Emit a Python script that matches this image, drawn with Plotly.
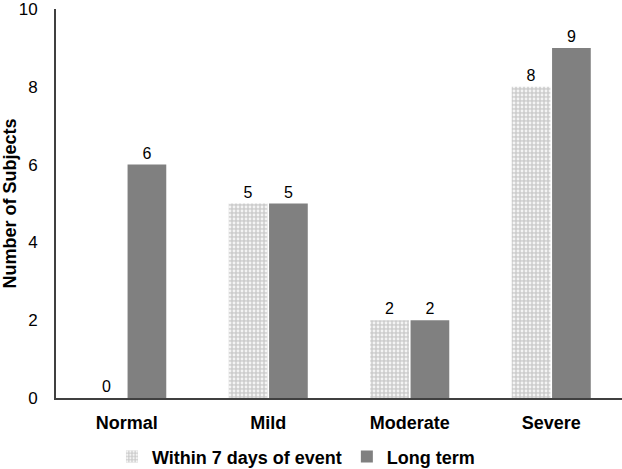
import plotly.graph_objects as go

categories = ["Normal", "Mild", "Moderate", "Severe"]
within_7_days = [0, 5, 2, 8]
long_term = [6, 5, 2, 9]
series_names = ["Within 7 days of event", "Long term"]
y_ticks = [0, 2, 4, 6, 8, 10]

FONT = "Liberation Sans, Arial"

fig = go.Figure()
fig.add_trace(go.Bar(
    x=categories, y=within_7_days, name=series_names[0],
    marker=dict(color="#d4d4d4", line=dict(width=0),
                pattern=dict(shape=".", fgcolor="#f4f4f4", bgcolor="#cdcdcd",
                             size=4, solidity=0.4, fillmode="replace")),
    text=within_7_days, textposition="outside",
    textfont=dict(family=FONT, size=16, color="#000"),
    cliponaxis=False,
))
fig.add_trace(go.Bar(
    x=categories, y=long_term, name=series_names[1],
    marker=dict(color="#808080", line=dict(width=0)),
    text=long_term, textposition="outside",
    textfont=dict(family=FONT, size=16, color="#000"),
    cliponaxis=False,
))

fig.update_layout(
    width=622, height=469,
    margin=dict(l=56, r=0, t=9, b=71),
    paper_bgcolor="white", plot_bgcolor="white",
    barmode="group", bargap=0.43, bargroupgap=0.04,
    font=dict(family=FONT, size=16, color="#000"),
    showlegend=True,
    legend=dict(orientation="h", x=0.424, xanchor="center",
                yref="container", y=0.026, yanchor="middle",
                font=dict(size=18, family=FONT, weight="bold"),
                itemwidth=30, tracegroupgap=0),
    xaxis=dict(showline=True, linecolor="#404040", linewidth=2, ticks="",
               tickfont=dict(size=18, weight="bold"), showgrid=False,
               ticklabelstandoff=7, automargin=False),
    yaxis=dict(range=[0, 10], tickvals=y_ticks, showline=True, linecolor="#404040",
               linewidth=2, ticks="", showgrid=False, zeroline=False,
               tickfont=dict(size=17), ticklabelstandoff=13, automargin=False,
               ticklabeloverflow="allow",
               title=dict(text="Number of Subjects", font=dict(size=18, weight="bold"),
                          standoff=6)),
)

fig.write_html("out.html",
               config={"displayModeBar": False},
               post_script="document.body.style.margin='0';document.body.style.overflow='hidden';")
